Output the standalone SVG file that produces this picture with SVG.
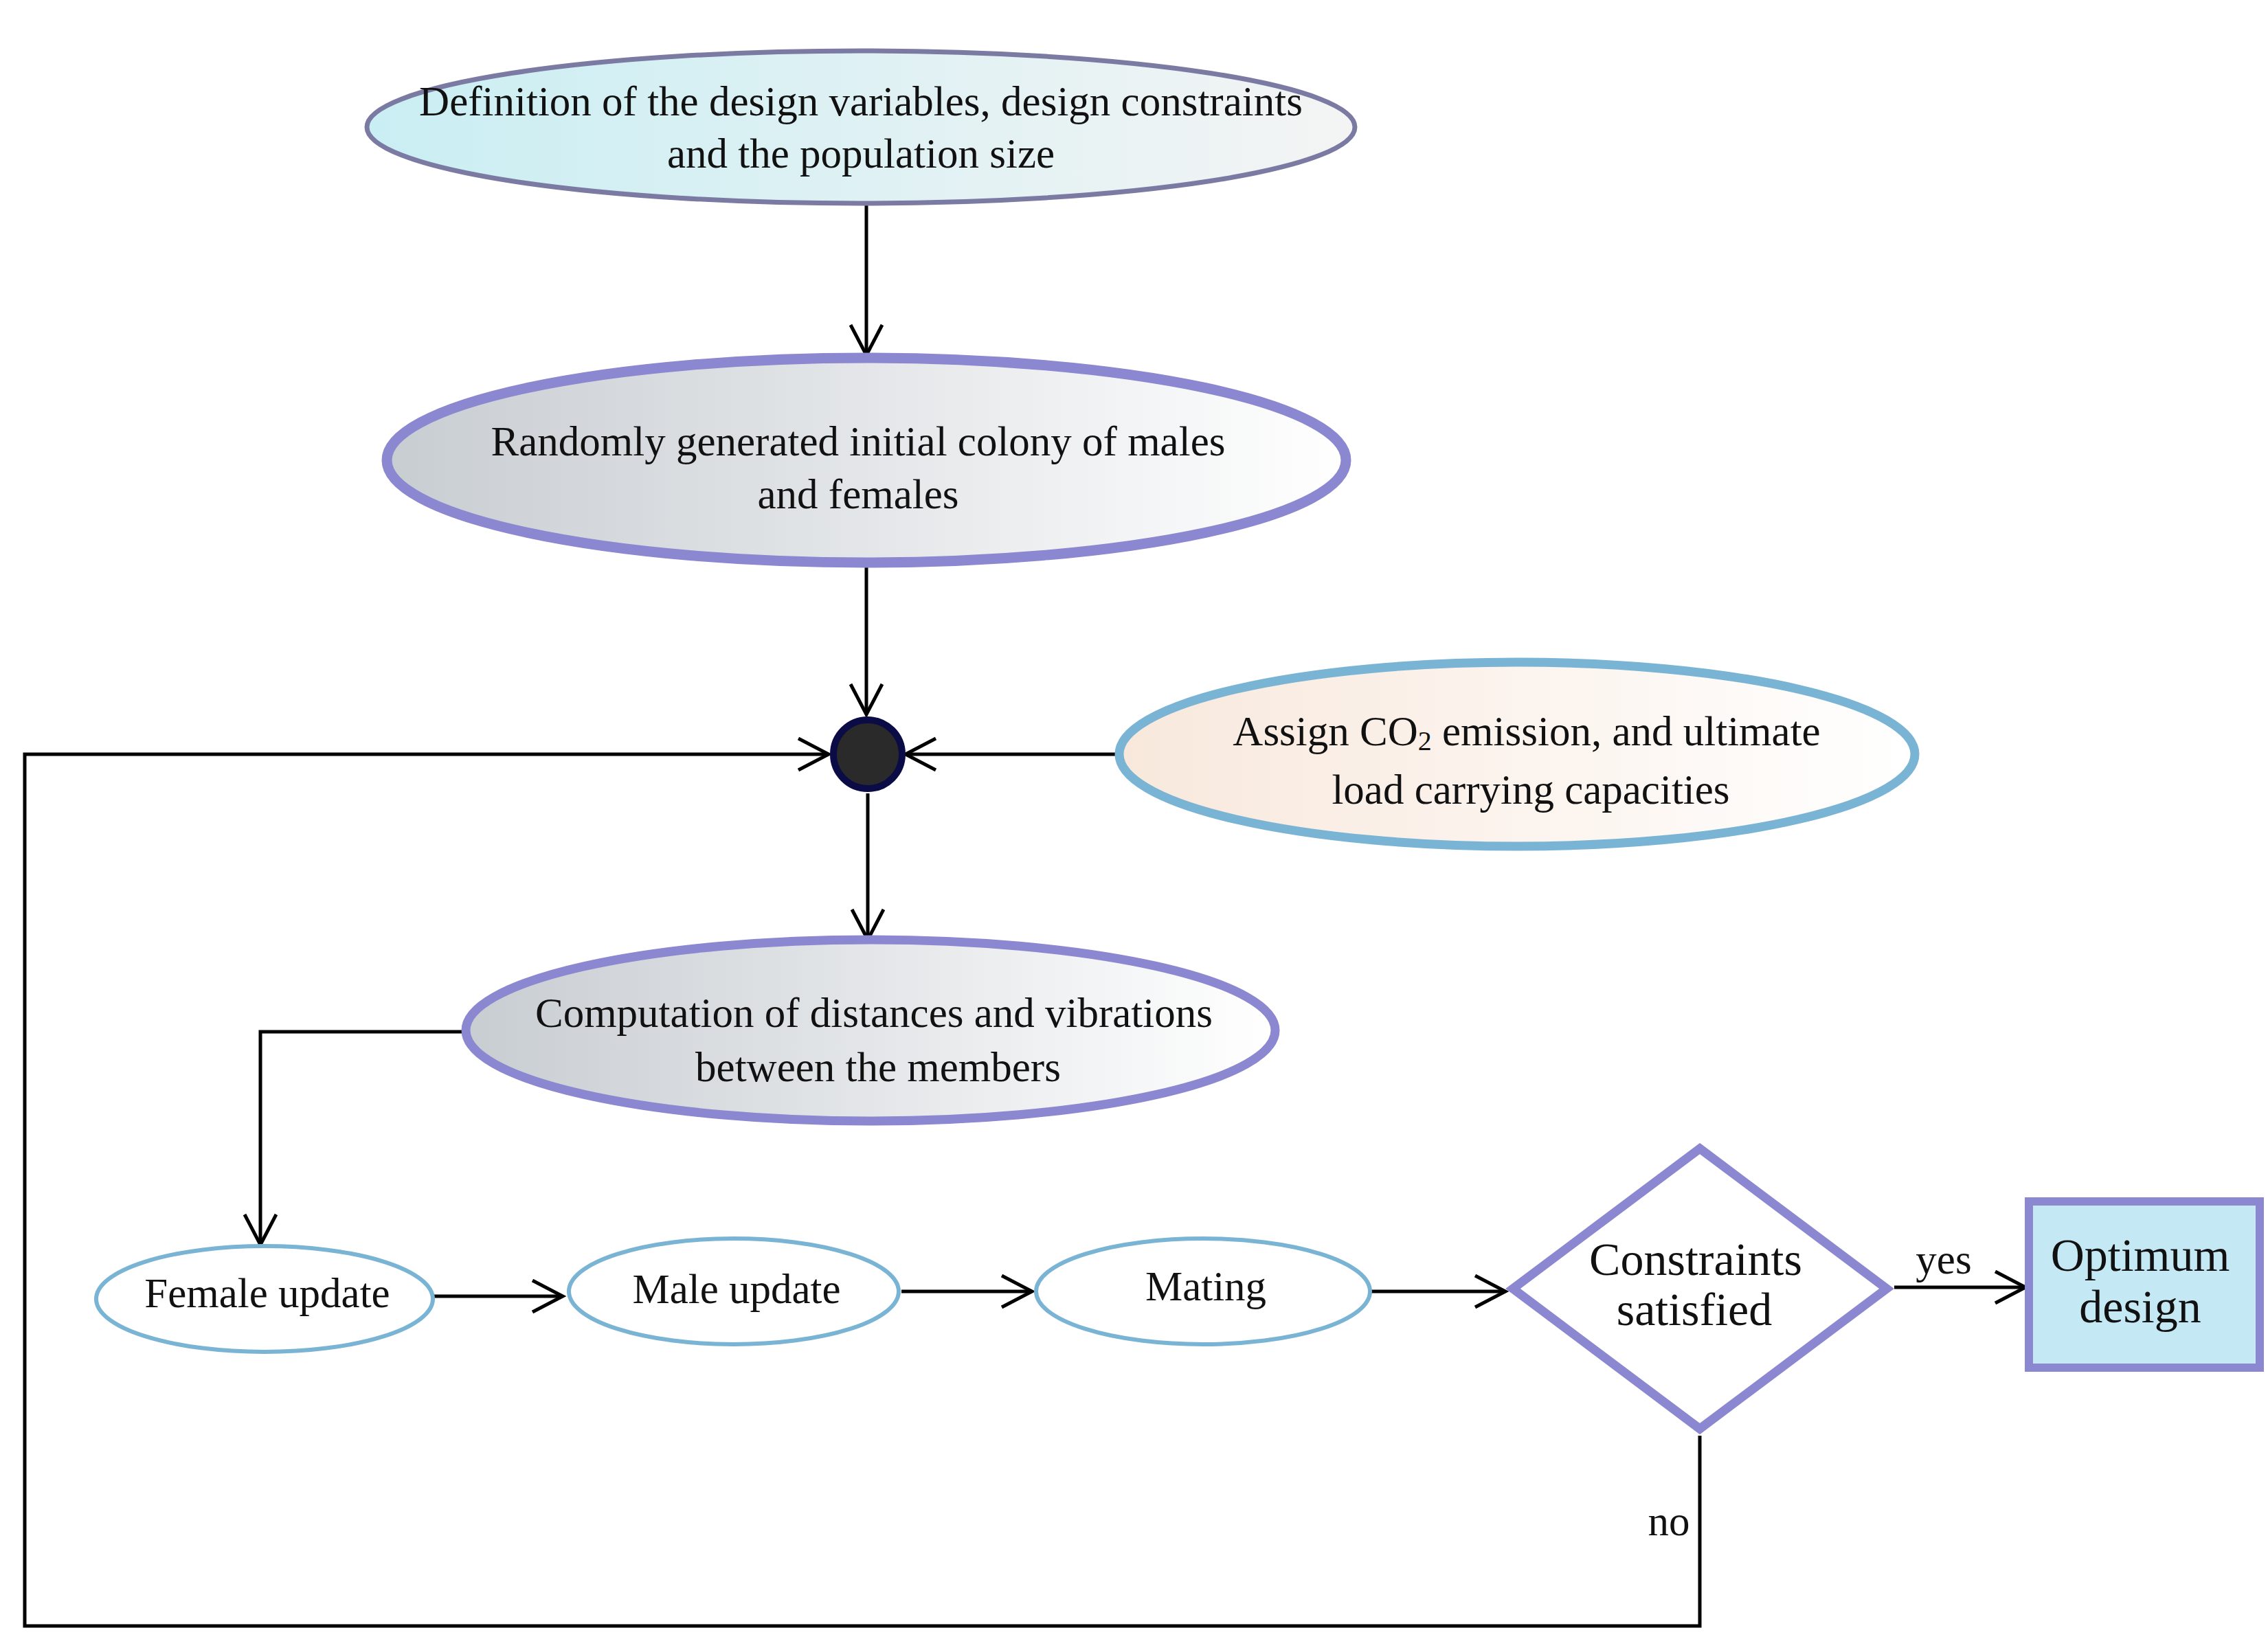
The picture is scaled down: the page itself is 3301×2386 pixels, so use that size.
<svg xmlns="http://www.w3.org/2000/svg" width="3301" height="2386" viewBox="0 0 3301 2386">
<defs>
<linearGradient id="g1" x1="0" x2="1" y1="0" y2="0"><stop offset="0" stop-color="#c9eef3"/><stop offset="1" stop-color="#f4f4f4"/></linearGradient>
<linearGradient id="g2" x1="0" x2="1" y1="0" y2="0"><stop offset="0" stop-color="#c8cdd2"/><stop offset="1" stop-color="#ffffff"/></linearGradient>
<linearGradient id="g3" x1="0" x2="1" y1="0" y2="0"><stop offset="0" stop-color="#f8e8dc"/><stop offset="1" stop-color="#ffffff"/></linearGradient>
<marker id="ar" markerUnits="userSpaceOnUse" markerWidth="60" markerHeight="60" refX="48" refY="25" orient="auto"><path d="M4,2 L48,25 L4,48" fill="none" stroke="#000" stroke-width="5"/></marker>
<style>
text{font-family:"Liberation Serif","Times New Roman",serif;fill:#111;text-anchor:middle;dominant-baseline:central}
.t{font-size:61px}.b{font-size:68px}
.c{fill:none;stroke:#000;stroke-width:5}
</style>
</defs>
<g id="connectors">
<line class="c" x1="1261" y1="298" x2="1261" y2="517" marker-end="url(#ar)"/>
<line class="c" x1="1261" y1="819" x2="1261" y2="1040" marker-end="url(#ar)"/>
<line class="c" x1="1629" y1="1098" x2="1318" y2="1098" marker-end="url(#ar)"/>
<polyline class="c" points="2474,2090 2474,2367 36,2367 36,1098 1206,1098" marker-end="url(#ar)"/>
<line class="c" x1="1263" y1="1155" x2="1263" y2="1368" marker-end="url(#ar)"/>
<polyline class="c" points="674,1502 379,1502 379,1812" marker-end="url(#ar)"/>
<line class="c" x1="632" y1="1887" x2="819" y2="1887" marker-end="url(#ar)"/>
<line class="c" x1="1312" y1="1880" x2="1502" y2="1880" marker-end="url(#ar)"/>
<line class="c" x1="1995" y1="1880" x2="2191" y2="1880" marker-end="url(#ar)"/>
<line class="c" x1="2757" y1="1874" x2="2948" y2="1874" marker-end="url(#ar)"/>
<text class="t" x="2829" y="1833">yes</text>
<text class="t" x="2429" y="2214">no</text>
</g>
<g id="n1"><ellipse cx="1253" cy="185" rx="719" ry="111" fill="url(#g1)" stroke="#7b7aa3" stroke-width="7"/>
<text class="t" x="1253" y="147">Definition of the design variables, design constraints</text>
<text class="t" x="1253" y="223">and the population size</text></g>
<g id="n2"><ellipse cx="1261" cy="670" rx="698" ry="149" fill="url(#g2)" stroke="#8b87d0" stroke-width="15"/>
<text class="t" x="1249" y="642">Randomly generated initial colony of males</text>
<text class="t" x="1249" y="719">and females</text></g>
<g id="hub"><circle cx="1263" cy="1098" r="50" fill="#2a2a2a" stroke="#0b0b45" stroke-width="10"/></g>
<g id="n3"><ellipse cx="2208" cy="1098" rx="579" ry="134" fill="url(#g3)" stroke="#7ab4d4" stroke-width="13"/>
<text class="t" x="2222" y="1064">Assign CO<tspan font-size="40" dy="14">2</tspan><tspan dy="-14"> emission, and ultimate</tspan></text>
<text class="t" x="2228" y="1149">load carrying capacities</text></g>
<g id="n4"><ellipse cx="1267" cy="1500" rx="589" ry="132" fill="url(#g2)" stroke="#8b87d0" stroke-width="13"/>
<text class="t" x="1272" y="1474">Computation of distances and vibrations</text>
<text class="t" x="1278" y="1553">between the members</text></g>
<g id="female"><ellipse cx="385" cy="1891" rx="245" ry="77" fill="#fff" stroke="#7ab4d4" stroke-width="6"/><text class="t" x="389" y="1882">Female update</text></g>
<g id="male"><ellipse cx="1068" cy="1880" rx="240" ry="77" fill="#fff" stroke="#7ab4d4" stroke-width="6"/><text class="t" x="1072" y="1876">Male update</text></g>
<g id="mating"><ellipse cx="1751" cy="1880" rx="243" ry="77" fill="#fff" stroke="#7ab4d4" stroke-width="6"/><text class="t" x="1755" y="1872">Mating</text></g>
<g id="diamond"><polygon points="2474,1672 2746,1876 2474,2080 2202,1876" fill="#fff" stroke="#8b87d0" stroke-width="13"/>
<text class="b" x="2468" y="1833">Constraints</text><text class="b" x="2466" y="1906">satisfied</text></g>
<g id="optimum"><rect x="2953" y="1749" width="336" height="242" fill="#c5e8f5" stroke="#8b87d0" stroke-width="12"/>
<text class="b" x="3115" y="1827">Optimum</text><text class="b" x="3115" y="1902">design</text></g>
</svg>
